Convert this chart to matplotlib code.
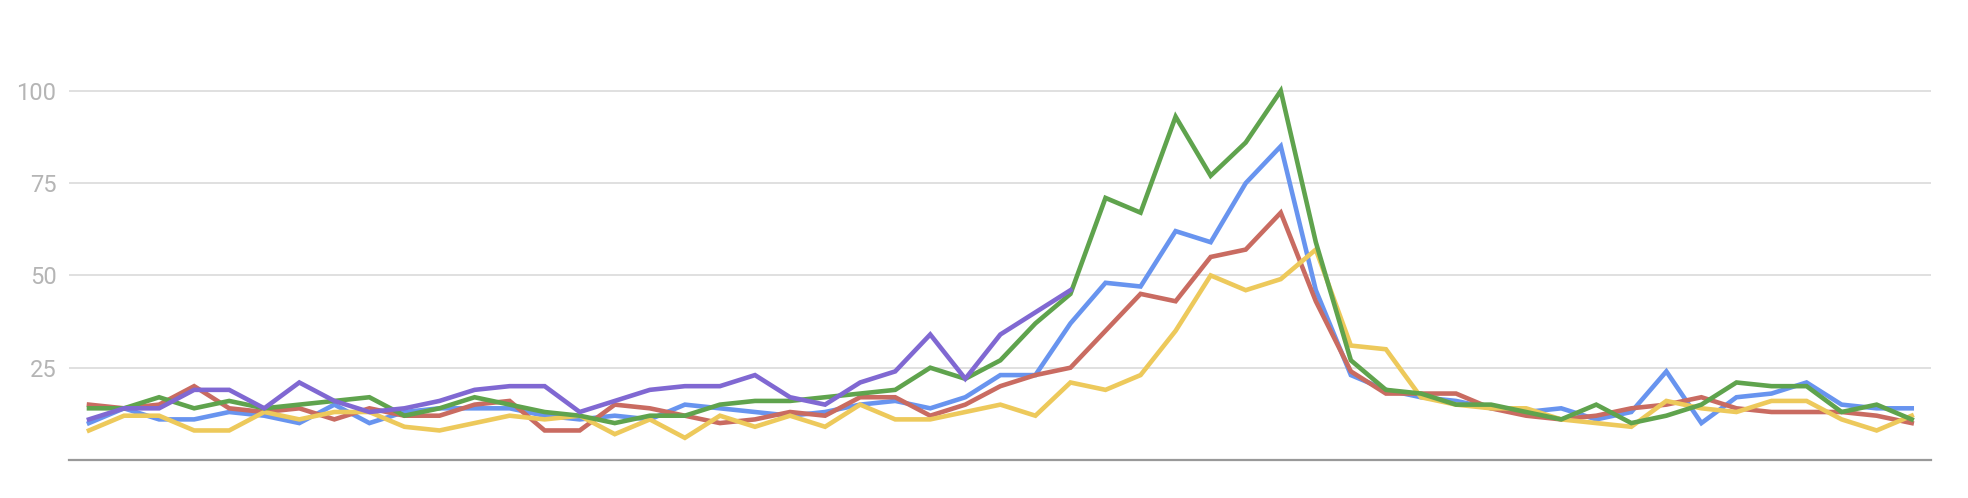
import numpy as np
import matplotlib
matplotlib.use('Agg')
import matplotlib.pyplot as plt

# weekly values (0-100 scale), 53 points
blue = [10, 14, 11, 11, 13, 12, 10, 15, 10, 13, 14, 14, 14, 12, 11, 12, 11, 15,
        14, 13, 12, 13, 15, 16, 14, 17, 23, 23, 37, 48, 47, 62, 59, 75, 85, 46,
        23, 19, 17, 16, 14, 13, 14, 11, 13, 24, 10, 17, 18, 21, 15, 14, 14]
red = [15, 14, 15, 20, 14, 13, 14, 11, 14, 12, 12, 15, 16, 8, 8, 15, 14, 12,
       10, 11, 13, 12, 17, 17, 12, 15, 20, 23, 25, 35, 45, 43, 55, 57, 67, 43,
       24, 18, 18, 18, 14, 12, 11, 12, 14, 15, 17, 14, 13, 13, 13, 12, 10]
yellow = [8, 12, 12, 8, 8, 13, 11, 13, 13, 9, 8, 10, 12, 11, 12, 7, 11, 6,
          12, 9, 12, 9, 15, 11, 11, 13, 15, 12, 21, 19, 23, 35, 50, 46, 49, 57,
          31, 30, 17, 15, 14, 14, 11, 10, 9, 16, 14, 13, 16, 16, 11, 8, 12]
green = [14, 14, 17, 14, 16, 14, 15, 16, 17, 12, 14, 17, 15, 13, 12, 10, 12, 12,
         15, 16, 16, 17, 18, 19, 25, 22, 27, 37, 45, 71, 67, 93, 77, 86, 100, 59,
         27, 19, 18, 15, 15, 13, 11, 15, 10, 12, 15, 21, 20, 20, 13, 15, 11]
# purple series stops after week 28
purple = [11, 14, 14, 19, 19, 14, 21, 16, 13, 14, 16, 19, 20, 20, 13, 16, 19, 20,
          20, 23, 17, 15, 21, 24, 34, 22, 34, 40, 46]

weeks = np.arange(len(blue))

fig = plt.figure(figsize=(19.68, 4.98), dpi=100)
ax = fig.add_axes([69 / 1968, 38 / 498, 1862 / 1968, 443 / 498])

series = [
    (blue, '#6894ef'),
    (red, '#c96b61'),
    (yellow, '#edc95b'),
    (green, '#5fa34d'),
    (purple, '#8068d2'),
]
for vals, col in series:
    ax.plot(weeks[:len(vals)], vals, color=col, linewidth=3.3,
            solid_joinstyle='miter', zorder=3)

ax.set_xlim(-0.57, 52.55)
ax.set_ylim(0, 120)
ax.set_yticks([25, 50, 75, 100])
ax.set_xticks([])
ax.yaxis.grid(True, color='#dddddd', linewidth=1.3)
ax.set_axisbelow(True)
for side in ['top', 'right', 'left']:
    ax.spines[side].set_visible(False)
ax.spines['bottom'].set_color('#999999')
ax.spines['bottom'].set_linewidth(1.6)
ax.tick_params(axis='y', length=0, pad=9, labelsize=17, labelcolor='#b5b5b5')
for lab in ax.get_yticklabels():
    lab.set_fontfamily('Roboto')

fig.savefig('out.png', dpi=100)
